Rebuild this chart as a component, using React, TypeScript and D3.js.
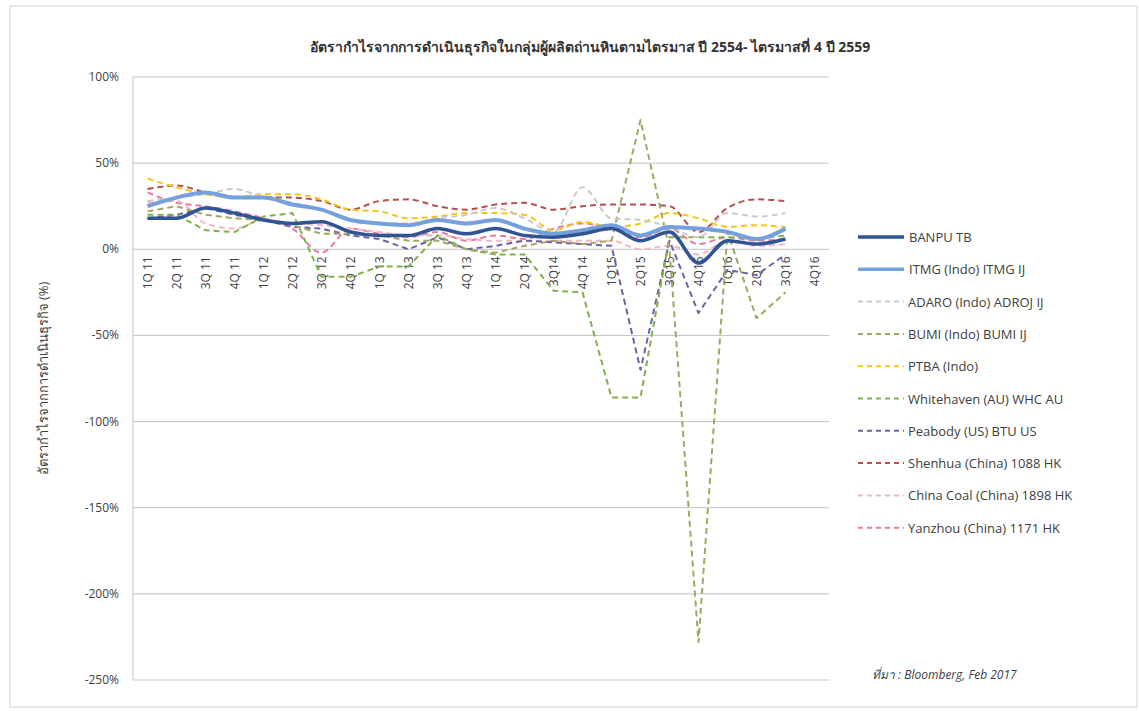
import { useEffect, useRef } from 'react';
import * as d3 from 'd3';

const quarters = [
  '1Q 11', '2Q 11', '3Q 11', '4Q 11', '1Q 12', '2Q 12', '3Q 12', '4Q 12',
  '1Q 13', '2Q 13', '3Q 13', '4Q 13', '1Q 14', '2Q 14', '3Q14', '4Q 14',
  '1Q15', '2Q15', '3Q15', '4Q15', '1Q16', '2Q16', '3Q16', '4Q16',
];

const banpu = [18, 18, 24, 21, 17, 15, 16, 10, 8, 8, 12, 9, 12, 8, 7, 9, 12, 5, 10, -8, 5, 3, 6, null];
const itmg = [25, 30, 33, 30, 30, 26, 23, 17, 15, 14, 17, 15, 17, 12, 9, 11, 14, 8, 13, 12, 10, 6, 12, null];
const adaro = [28, 30, 32, 35, 30, 27, 23, 17, 15, 15, 18, 20, 24, 18, 10, 36, 18, 17, 13, 7, 21, 19, 21, null];
const bumi = [22, 25, 20, 18, 17, 14, 9, 9, 8, 5, 5, 0, -2, 2, 5, 3, 5, 75, 0, -228, 10, -40, -25, null];
const ptba = [41, 36, 32, 30, 32, 32, 29, 23, 22, 18, 19, 21, 21, 20, 11, 16, 13, 15, 21, 18, 13, 14, 13, null];
const whitehaven = [20, 20, 11, 10, 19, 21, -16, -16, -10, -10, 8, 0, -3, -3, -24, -25, -86, -86, 7, 7, 7, 6, 8, null];
const peabody = [18, 20, 24, 20, 17, 13, 12, 8, 6, 0, 7, 0, 2, 5, 4, 3, 2, -70, 5, -37, -12, -15, -3, null];
const shenhua = [35, 37, 33, 30, 30, 30, 28, 23, 28, 29, 25, 23, 26, 27, 23, 25, 26, 26, 25, 10, 24, 29, 28, null];
const chinaCoal = [27, 28, 15, 12, 17, 15, 14, 12, 10, 8, 8, 6, 5, 5, 5, 5, 5, 0, 2, -3, 5, 2, 3, null];
const yanzhou = [33, 27, 25, 22, 18, 12, -2, 12, 9, 7, 10, 5, 8, 6, 12, 15, 12, 7, 12, 3, 7, 5, 6, null];

const yTicks = [100, 50, 0, -50, -100, -150, -200, -250];

const series = [
  { name: 'BANPU TB', values: banpu, color: '#2f5597', width: 3.5, dash: null, smooth: true },
  { name: 'ITMG (Indo) ITMG IJ', values: itmg, color: '#74a0dc', width: 4, dash: null, smooth: true },
  { name: 'ADARO (Indo) ADROJ IJ', values: adaro, color: '#cacaca', width: 2, dash: '6,4', smooth: true },
  { name: 'BUMI (Indo) BUMI IJ', values: bumi, color: '#a5a561', width: 2, dash: '6,4', smooth: false },
  { name: 'PTBA (Indo)', values: ptba, color: '#f4c617', width: 2, dash: '6,4', smooth: true },
  { name: 'Whitehaven (AU) WHC AU', values: whitehaven, color: '#82b04a', width: 2, dash: '6,4', smooth: false },
  { name: 'Peabody (US) BTU US', values: peabody, color: '#6d61a8', width: 2, dash: '6,4', smooth: false },
  { name: 'Shenhua (China) 1088 HK', values: shenhua, color: '#b4504e', width: 2, dash: '6,4', smooth: true },
  { name: 'China Coal (China) 1898 HK', values: chinaCoal, color: '#f3b6c3', width: 2, dash: '6,4', smooth: true },
  { name: 'Yanzhou (China) 1171 HK', values: yanzhou, color: '#e8799f', width: 2, dash: '6,4', smooth: true },
];

const FONT = "'Open Sans', 'Noto Sans', 'DejaVu Sans', sans-serif";

export default function App() {
  const svgRef = useRef<SVGSVGElement>(null);

  useEffect(() => {
    if (!svgRef.current) return;
    const root = d3.select(svgRef.current);
    root.selectAll('*').remove();

    const W = 1139;
    const H = 711;
    root.attr('width', W).attr('height', H);

    root
      .append('rect')
      .attr('x', 0)
      .attr('y', 0)
      .attr('width', W)
      .attr('height', H)
      .attr('fill', '#fff');

    root
      .append('rect')
      .attr('x', 10)
      .attr('y', 6)
      .attr('width', W - 12)
      .attr('height', H - 10)
      .attr('fill', 'none')
      .attr('stroke', '#d4d4d4');

    const plot = { left: 133, right: 829, top: 77, bottom: 680 };

    const x = d3.scaleBand<string>().domain(quarters).range([plot.left, plot.right]);
    const y = d3.scaleLinear().domain([-250, 100]).range([plot.bottom, plot.top]);
    const cx = (i: number) => (x(quarters[i]) as number) + x.bandwidth() / 2;

    // gridlines
    root
      .append('g')
      .selectAll('line')
      .data(yTicks)
      .enter()
      .append('line')
      .attr('x1', plot.left)
      .attr('x2', plot.right)
      .attr('y1', (d) => y(d))
      .attr('y2', (d) => y(d))
      .attr('stroke', '#bfc3cc')
      .attr('stroke-width', 1);

    // left axis line
    root
      .append('line')
      .attr('x1', plot.left)
      .attr('x2', plot.left)
      .attr('y1', plot.top)
      .attr('y2', plot.bottom)
      .attr('stroke', '#bfc3cc');

    // y tick labels
    root
      .append('g')
      .selectAll('text')
      .data(yTicks)
      .enter()
      .append('text')
      .attr('x', 119)
      .attr('y', (d) => y(d) + 4)
      .attr('text-anchor', 'end')
      .style('font-family', FONT)
      .style('font-size', '12px')
      .style('fill', '#404040')
      .text((d) => `${d}%`);

    // x labels sit at the 0% line, rotated
    root
      .append('g')
      .selectAll('text')
      .data(quarters)
      .enter()
      .append('text')
      .attr('transform', (d, i) => `translate(${cx(i) + 4},${y(0) + 7}) rotate(-90)`)
      .attr('text-anchor', 'end')
      .style('font-family', FONT)
      .style('font-size', '12px')
      .style('fill', '#404040')
      .text((d) => d);

    const makeLine = (smooth: boolean) =>
      d3
        .line<number | null>()
        .defined((d) => d !== null)
        .x((d, i) => cx(i))
        .y((d) => y(d as number))
        .curve(smooth ? d3.curveMonotoneX : d3.curveLinear);

    // draw back to front so BANPU sits on top
    [...series].reverse().forEach((s) => {
      root
        .append('path')
        .datum(s.values)
        .attr('fill', 'none')
        .attr('stroke', s.color)
        .attr('stroke-width', s.width)
        .attr('stroke-dasharray', s.dash)
        .attr('stroke-linejoin', 'round')
        .attr('d', makeLine(s.smooth));
    });

    // title
    root
      .append('text')
      .attr('x', 590)
      .attr('y', 52)
      .attr('text-anchor', 'middle')
      .style('font-family', FONT)
      .style('font-size', '14px')
      .style('font-weight', 'bold')
      .style('fill', '#333')
      .text('อัตรากำไรจากการดำเนินธุรกิจในกลุ่มผู้ผลิตถ่านหินตามไตรมาส  ปี 2554- ไตรมาสที่ 4 ปี 2559');

    // y axis title
    root
      .append('text')
      .attr('transform', `translate(48,${(plot.top + plot.bottom) / 2}) rotate(-90)`)
      .attr('text-anchor', 'middle')
      .style('font-family', FONT)
      .style('font-size', '13px')
      .style('fill', '#404040')
      .text('อัตรากำไรจากการดำเนินธุรกิจ (%)');

    // legend
    const legend = root.append('g').attr('transform', 'translate(858,237)');
    series.forEach((s, i) => {
      const row = legend.append('g').attr('transform', `translate(0,${i * 32.3})`);
      row
        .append('line')
        .attr('x1', 0)
        .attr('x2', 46)
        .attr('y1', 0)
        .attr('y2', 0)
        .attr('stroke', s.color)
        .attr('stroke-width', s.dash ? 2 : 3.5)
        .attr('stroke-dasharray', s.dash ? '5,4' : null);
      row
        .append('text')
        .attr('x', s.dash ? 50 : 51)
        .attr('y', 5)
        .style('font-family', FONT)
        .style('font-size', '13px')
        .style('fill', '#404040')
        .text(s.name);
    });

    // source note
    root
      .append('text')
      .attr('x', 872)
      .attr('y', 679)
      .style('font-family', FONT)
      .style('font-size', '12px')
      .style('font-style', 'italic')
      .style('fill', '#404040')
      .text('ที่มา : Bloomberg, Feb 2017');
  }, []);

  return (
    <div style={{ position: 'absolute', left: 0, top: 0 }}>
      <svg ref={svgRef} style={{ display: 'block' }} />
    </div>
  );
}
